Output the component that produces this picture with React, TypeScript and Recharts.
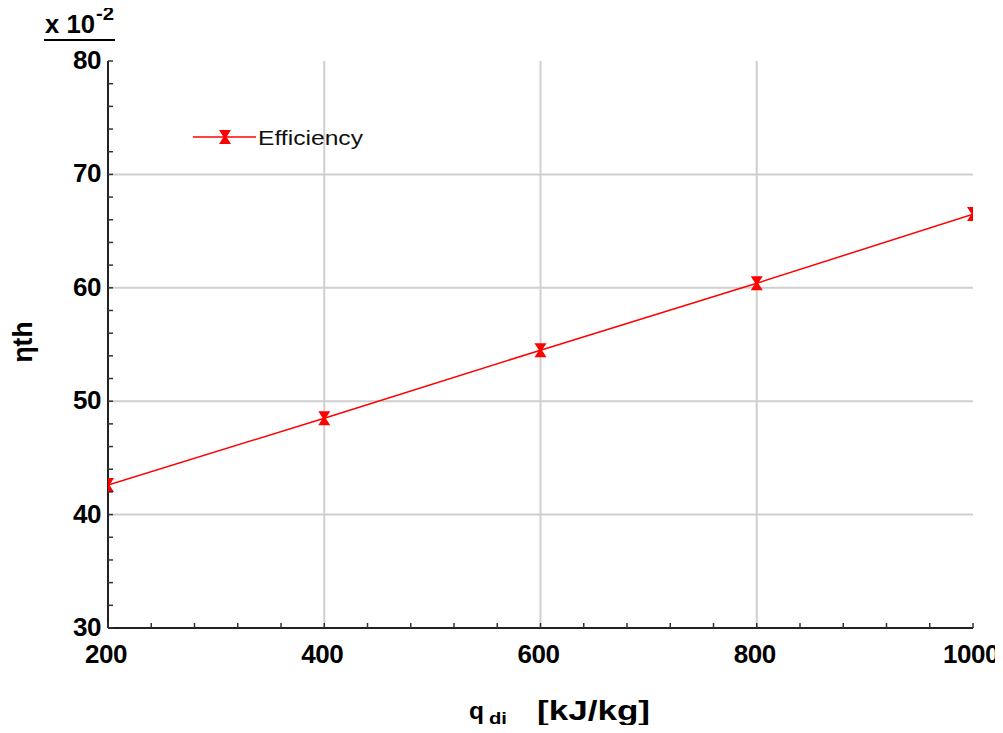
import { LineChart, Line, XAxis, YAxis, ReferenceLine } from "recharts";

// x values (heat input) and thermal efficiency (x 10^-2)
const qdi = [200, 400, 600, 800, 1000];
const efficiency = [42.6, 48.5, 54.5, 60.4, 66.5];

const xMajor = [200, 400, 600, 800, 1000];
const yMajor = [30, 40, 50, 60, 70, 80];
const xTicks = [
  200, 240, 280, 320, 360, 400, 440, 480, 520, 560, 600, 640, 680, 720, 760,
  800, 840, 880, 920, 960, 1000,
];
const yTicks = [
  30, 32, 34, 36, 38, 40, 42, 44, 46, 48, 50, 52, 54, 56, 58, 60, 62, 64, 66,
  68, 70, 72, 74, 76, 78, 80,
];

const data = qdi.map((q, i) => ({ q, eff: efficiency[i] }));

const FONT = "'Liberation Sans', Arial, sans-serif";
const frame = "#333";

const labelStyle = {
  fontFamily: FONT,
  fontWeight: 700,
  fontSize: 26,
  letterSpacing: -0.5,
  fill: "#000",
};

const BottomTick = (props: any) => {
  const { x, y, payload } = props;
  const major = xMajor.includes(payload.value);
  return (
    <g>
      <line x1={x} y1={y} x2={x} y2={y - 5} stroke={frame} strokeWidth={1.5} />
      {major && (
        <text x={x - 2} y={y + 26} textAnchor="middle" dominantBaseline="central" style={labelStyle}>
          {payload.value}
        </text>
      )}
    </g>
  );
};

const TopTick = (props: any) => {
  const { x, y } = props;
  return <line x1={x} y1={y} x2={x} y2={y + 5} stroke={frame} strokeWidth={1.5} />;
};

const LeftTick = (props: any) => {
  const { x, y, payload } = props;
  const major = yMajor.includes(payload.value);
  return (
    <g>
      <line x1={x} y1={y} x2={x + 5} y2={y} stroke={frame} strokeWidth={1.5} />
      {major && (
        <text x={x - 7} y={y - 1} textAnchor="end" dominantBaseline="central" style={labelStyle}>
          {payload.value}
        </text>
      )}
    </g>
  );
};

const RightTick = (props: any) => {
  const { x, y } = props;
  return <line x1={x} y1={y} x2={x - 5} y2={y} stroke={frame} strokeWidth={1.5} />;
};

const Hourglass = (props: any) => {
  const { cx, cy, index } = props;
  if (cx == null || cy == null) return null;
  return (
    <polygon
      key={index}
      points={`${cx - 6},${cy - 7} ${cx + 6},${cy - 7} ${cx + 1.5},${cy} ${cx + 6},${cy + 7} ${cx - 6},${cy + 7} ${cx - 1.5},${cy}`}
      fill="#ff0000"
    />
  );
};

export default function App() {
  return (
    <div style={{ position: "relative", width: 1003, height: 733, margin: -8, background: "#fff" }}>
      <LineChart width={1003} height={733} data={data} margin={{ top: 61, right: 30, left: 0, bottom: 0 }}>
        <XAxis
          xAxisId="b"
          dataKey="q"
          type="number"
          domain={[200, 1000]}
          ticks={xTicks}
          interval={0}
          allowDataOverflow
          height={105}
          tickSize={0}
          tickMargin={0}
          tickLine={false}
          tick={BottomTick}
          axisLine={{ stroke: "#222", strokeWidth: 2 }}
        />
        <XAxis
          xAxisId="t"
          orientation="top"
          dataKey="q"
          type="number"
          domain={[200, 1000]}
          ticks={xTicks}
          interval={0}
          height={0}
          tickSize={0}
          tickMargin={0}
          tickLine={false}
          tick={TopTick}
          axisLine={{ stroke: frame, strokeWidth: 1.5 }}
        />
        <YAxis
          yAxisId="l"
          type="number"
          domain={[30, 80]}
          ticks={yTicks}
          interval={0}
          allowDataOverflow
          width={108}
          tickSize={0}
          tickMargin={0}
          tickLine={false}
          tick={LeftTick}
          axisLine={{ stroke: "#222", strokeWidth: 2 }}
        />
        <YAxis
          yAxisId="r"
          orientation="right"
          type="number"
          domain={[30, 80]}
          ticks={yTicks}
          interval={0}
          width={0}
          tickSize={0}
          tickMargin={0}
          tickLine={false}
          tick={RightTick}
          axisLine={{ stroke: frame, strokeWidth: 1.5 }}
        />
        {xMajor.slice(1, -1).map((v) => (
          <ReferenceLine key={"x" + v} x={v} xAxisId="b" yAxisId="l" stroke="#cfcfcf" strokeWidth={2} />
        ))}
        {yMajor.slice(1, -1).map((v) => (
          <ReferenceLine key={"y" + v} y={v} xAxisId="b" yAxisId="l" stroke="#cfcfcf" strokeWidth={2} />
        ))}
        <Line
          xAxisId="b"
          yAxisId="l"
          dataKey="eff"
          stroke="#ff0000"
          strokeWidth={1.5}
          dot={Hourglass}
          activeDot={false}
          isAnimationActive={false}
        />
      </LineChart>

      <svg width={1003} height={733} style={{ position: "absolute", left: 0, top: 0, pointerEvents: "none" }}>
        <text
          x={45}
          y={33}
          textLength={50}
          lengthAdjust="spacingAndGlyphs"
          style={{ ...labelStyle, fontSize: 25, letterSpacing: 0 }}
        >
          x 10
        </text>
        <text
          x={96}
          y={20}
          textLength={18}
          lengthAdjust="spacingAndGlyphs"
          style={{ ...labelStyle, fontSize: 18, letterSpacing: 0 }}
        >
          -2
        </text>
        <line x1={44} y1={40} x2={115} y2={40} stroke="#000" strokeWidth={2} />

        <text
          transform="translate(32,342) rotate(-90)"
          textAnchor="middle"
          textLength={41}
          lengthAdjust="spacingAndGlyphs"
          style={{ ...labelStyle, fontSize: 27, letterSpacing: 0 }}
        >
          ηth
        </text>

        <text
          x={469}
          y={719}
          textLength={15}
          lengthAdjust="spacingAndGlyphs"
          style={{ ...labelStyle, fontSize: 24, letterSpacing: 0 }}
        >
          q
        </text>
        <text
          x={489}
          y={724}
          textLength={18}
          lengthAdjust="spacingAndGlyphs"
          style={{ ...labelStyle, fontSize: 16, letterSpacing: 0 }}
        >
          di
        </text>
        <text
          x={537}
          y={720}
          textLength={113}
          lengthAdjust="spacingAndGlyphs"
          style={{ ...labelStyle, fontSize: 27, letterSpacing: 0 }}
        >
          [kJ/kg]
        </text>

        <line x1={193} y1={137} x2={256} y2={137} stroke="#ff0000" strokeWidth={1.5} />
        <polygon points="219,130 231,130 226.5,137 231,144 219,144 223.5,137" fill="#ff0000" />
        <text
          x={258}
          y={137}
          dominantBaseline="central"
          textLength={105}
          lengthAdjust="spacingAndGlyphs"
          style={{ fontFamily: FONT, fontSize: 21, fill: "#111" }}
        >
          Efficiency
        </text>
      </svg>
    </div>
  );
}
